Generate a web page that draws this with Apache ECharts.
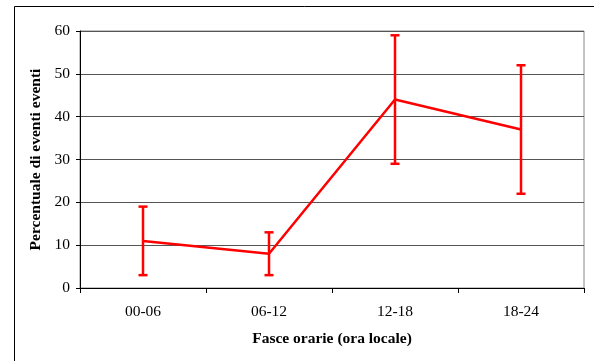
<!DOCTYPE html>
<html><head><meta charset="utf-8">
<script src="https://cdn.jsdelivr.net/npm/echarts@6/dist/echarts.min.js"></script>
<style>html,body{margin:0;padding:0;background:#fff}#c{width:594px;height:361px}</style>
</head><body><div id="c"></div>
<script>
const categories = ['00-06', '06-12', '12-18', '18-24'];
const values = [11, 8, 44, 37];
const errLow = [3, 3, 29, 22];
const errHigh = [19, 13, 59, 52];
const yTicks = [0, 10, 20, 30, 40, 50, 60];

const chart = echarts.init(document.getElementById('c'), null, {renderer: 'canvas'});
const font = 'Liberation Serif';
chart.setOption({
  animation: false,
  backgroundColor: '#fff',
  graphic: [{
    type: 'rect', shape: {x: 14.5, y: 6.5, width: 700, height: 500},
    style: {fill: 'none', stroke: '#000', lineWidth: 1}, z: -1
  }],
  grid: {left: 80, top: 31, width: 504, height: 257, show: true, borderColor: '#888', borderWidth: 1, backgroundColor: 'transparent'},
  xAxis: {
    type: 'category', data: categories, boundaryGap: true,
    name: 'Fasce orarie (ora locale)', nameLocation: 'middle', nameGap: 43,
    nameTextStyle: {fontFamily: font, fontSize: 15.5, fontWeight: 'bold', color: '#000'},
    axisLine: {lineStyle: {color: '#000', width: 1}},
    axisTick: {show: true, length: 5, lineStyle: {color: '#000'}},
    axisLabel: {fontFamily: font, fontSize: 15.5, color: '#000', margin: 16}
  },
  yAxis: {
    type: 'value', min: yTicks[0], max: yTicks[yTicks.length - 1], interval: 10,
    name: 'Percentuale di eventi eventi', nameLocation: 'middle', nameGap: 35,
    nameTextStyle: {fontFamily: font, fontSize: 15.5, fontWeight: 'bold', color: '#000'},
    axisLine: {show: true, lineStyle: {color: '#000', width: 1}},
    axisTick: {show: true, length: 4, lineStyle: {color: '#000'}},
    axisLabel: {fontFamily: font, fontSize: 15.5, color: '#000', margin: 10},
    splitLine: {show: true, lineStyle: {color: '#555', width: 1}}
  },
  series: [{
    type: 'line', data: values, symbol: 'none',
    lineStyle: {color: '#ff0000', width: 2.5}, z: 3
  }, {
    type: 'custom', z: 4,
    data: categories.map((c, i) => [i, errLow[i], errHigh[i]]),
    renderItem: function (params, api) {
      const lo = api.coord([api.value(0), api.value(1)]);
      const hi = api.coord([api.value(0), api.value(2)]);
      const hw = 4.5;
      const st = {stroke: '#ff0000', lineWidth: 2.5};
      return {type: 'group', children: [
        {type: 'line', shape: {x1: lo[0], y1: lo[1], x2: hi[0], y2: hi[1]}, style: st},
        {type: 'line', shape: {x1: lo[0] - hw, y1: lo[1], x2: lo[0] + hw, y2: lo[1]}, style: st},
        {type: 'line', shape: {x1: hi[0] - hw, y1: hi[1], x2: hi[0] + hw, y2: hi[1]}, style: st}
      ]};
    }
  }]
});
</script></body></html>
